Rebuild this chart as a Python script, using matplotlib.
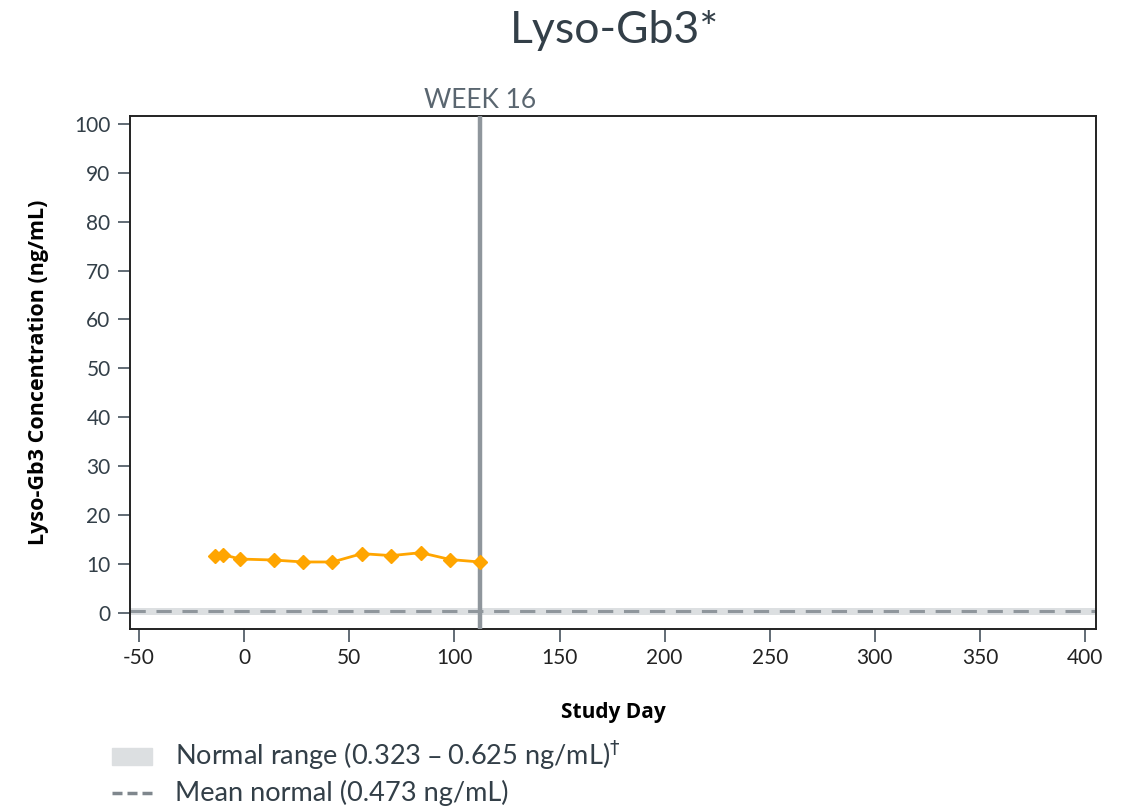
import matplotlib
matplotlib.use('Agg')
import matplotlib.pyplot as plt
from matplotlib.patches import Rectangle
from matplotlib.lines import Line2D

# data
study_day = [-14, -10, -2, 14, 28, 42, 56, 70, 84, 98, 112]
lyso_gb3 = [11.7, 11.9, 11.0, 10.8, 10.4, 10.4, 12.1, 11.7, 12.3, 10.9, 10.4]
normal_low, normal_high = 0.323, 0.625
mean_normal = 0.473
week16_day = 112
x_ticks = [-50, 0, 50, 100, 150, 200, 250, 300, 350, 400]
y_ticks = [0, 10, 20, 30, 40, 50, 60, 70, 80, 90, 100]

plt.rcParams['font.family'] = ['Lato', 'DejaVu Sans']

fig = plt.figure(figsize=(11.22, 8.10), dpi=100)
ax = fig.add_axes([0.1159, 0.2235, 0.8609, 0.6333])

# normal range band + mean line
ax.axhspan(normal_low, normal_high, color='#dcdfe1', zorder=1)
ax.axhline(mean_normal, color='#dcdfe1', linewidth=5, zorder=1)
ax.axhline(mean_normal, color='#8f969c', linewidth=2.2, dashes=(5, 3.5), zorder=2)

# week 16 marker
ax.axvline(week16_day, color='#8f969c', linewidth=3.2, zorder=3)

ax.plot(study_day, lyso_gb3, color='#ffa500', linewidth=2, marker='D', markersize=7,
        markeredgecolor='#ffa500', zorder=4)

ax.set_xlim(-54.3, 405.2)
ax.set_ylim(-3.3, 101.6)
ax.set_xticks(x_ticks)
ax.set_yticks(y_ticks)
ax.set_xticklabels([str(t) for t in x_ticks], fontsize=15, color='#222222')
ax.set_yticklabels([str(t) for t in y_ticks], fontsize=15, color='#333f48')
ax.tick_params(axis='both', color='#55606a', length=9, width=1.3, pad=5)
for s in ax.spines.values():
    s.set_color('#222222')
    s.set_linewidth(1.4)

ax.set_xlabel('Study Day', fontsize=15, fontweight='bold', labelpad=24,
              family=['Open Sans', 'DejaVu Sans'])
ax.set_ylabel('Lyso-Gb3 Concentration (ng/mL)', fontsize=15.5, fontweight='bold', labelpad=18,
              family=['Open Sans', 'DejaVu Sans'])

ax.text(week16_day, 102.2, 'WEEK 16', ha='center', va='bottom', fontsize=19,
        color='#5a6670')

fig.text(0.548, 0.962, 'Lyso-Gb3*', ha='center', va='center', fontsize=32, color='#333f48')

# legend drawn manually at the bottom
fig.patches.append(Rectangle((112 / 1122, 1 - 765 / 810), 40 / 1122, 17 / 810,
                             transform=fig.transFigure, color='#dcdfe1'))
fig.lines.append(Line2D([112 / 1122, 152 / 1122], [1 - 793 / 810] * 2, transform=fig.transFigure,
                        color='#7f878d', linewidth=2.5, dashes=(2.88, 1.44)))
fig.text(175 / 1122, 1 - 755 / 810, 'Normal range (0.323 – 0.625 ng/mL)$^{\\dagger}$',
         ha='left', va='center', fontsize=19.5, color='#333f48')
fig.text(175 / 1122, 1 - 793 / 810, 'Mean normal (0.473 ng/mL)',
         ha='left', va='center', fontsize=19.5, color='#333f48')

plt.savefig('out.png', dpi=100)
